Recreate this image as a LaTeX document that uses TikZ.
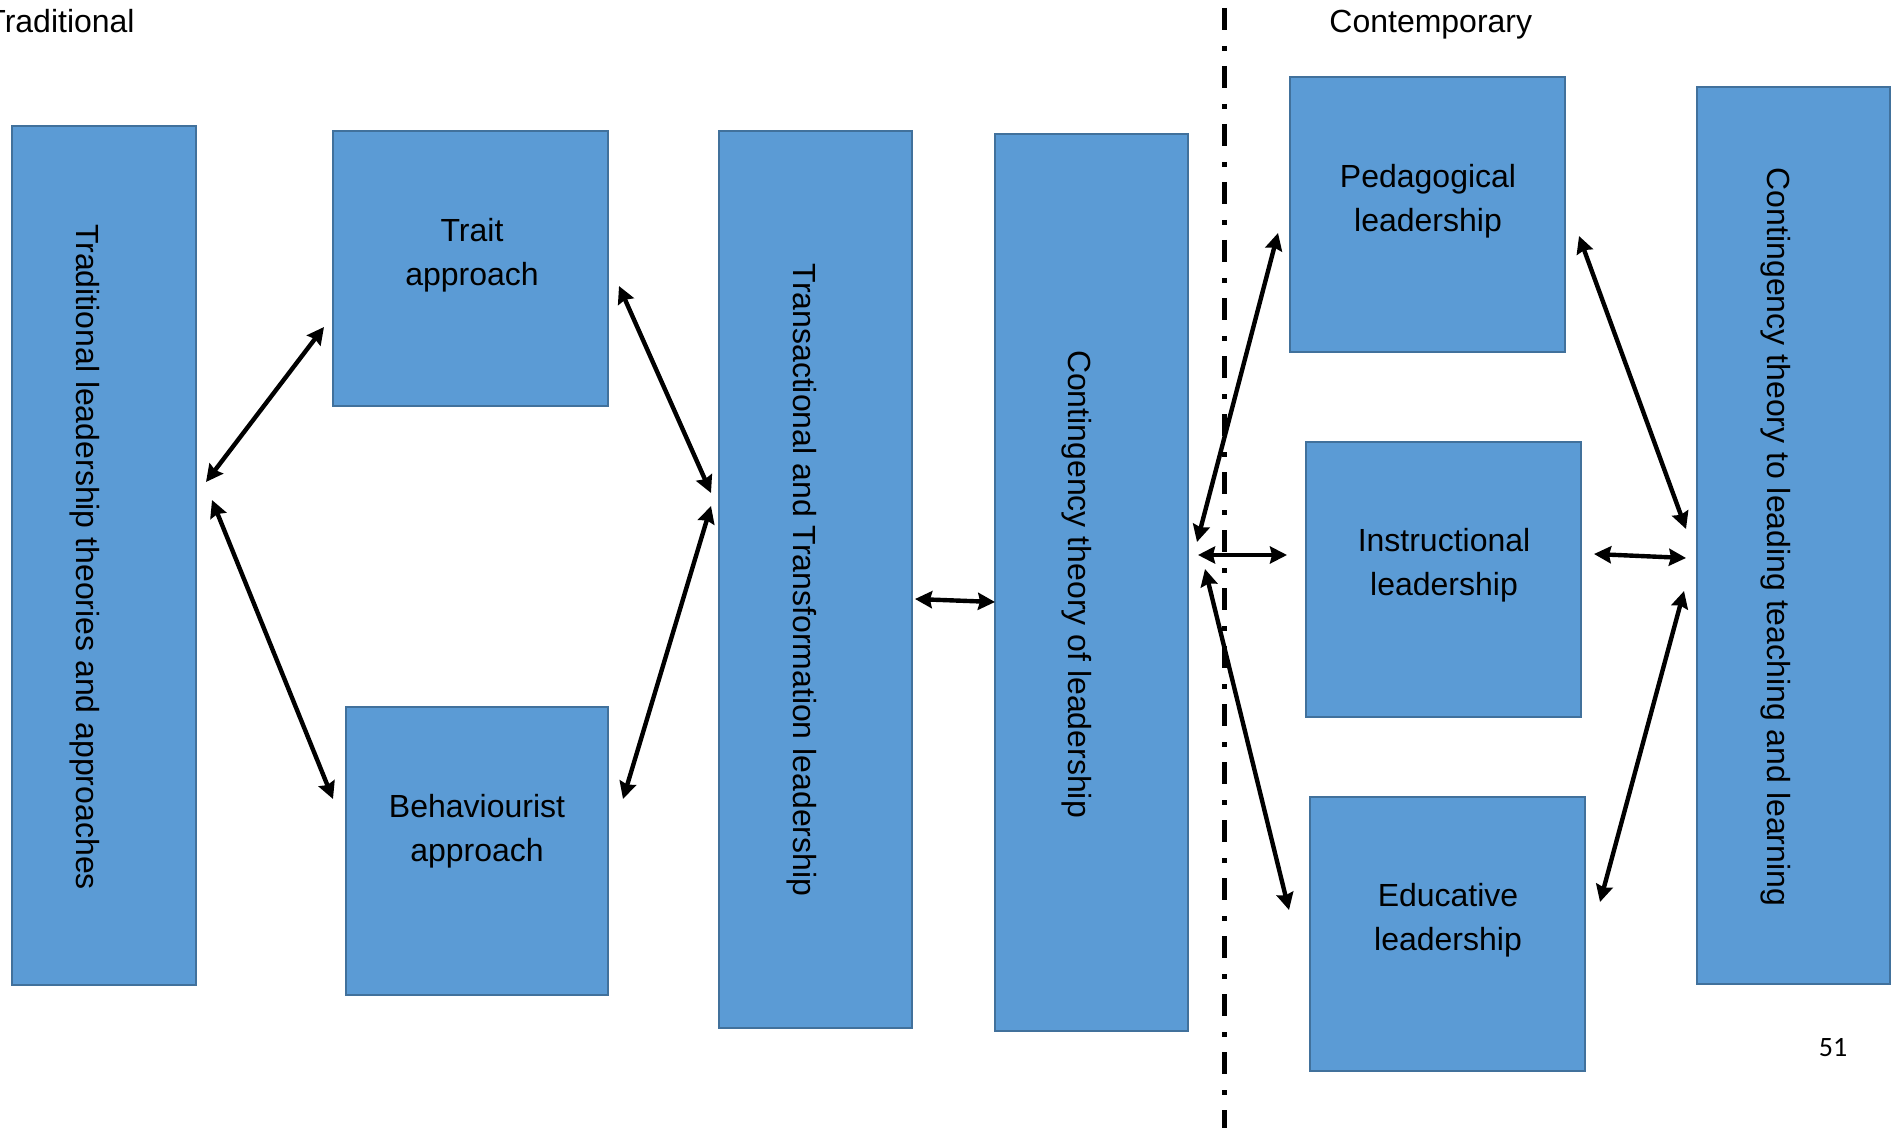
\documentclass[tikz,border=0pt]{standalone}
\usepackage{fontspec}
\setmainfont{Liberation Sans}
\newfontfamily\calibrifont{Carlito}
\usetikzlibrary{arrows.meta,calc}
\definecolor{boxfill}{HTML}{5B9BD5}
\definecolor{boxline}{HTML}{41719C}
\tikzset{
  box/.style={draw=boxline, fill=boxfill, line width=1.4pt, inner sep=0pt, outer sep=0pt},
  htxt/.style={align=center, inner sep=0pt, font=\fontsize{16pt}{21.8pt}\selectfont},
  vtxt/.style={rotate=-90, anchor=base, inner sep=0pt, font=\fontsize{16pt}{21.8pt}\selectfont},
  hdr/.style={anchor=base west, inner sep=0pt, font=\fontsize{16pt}{21.8pt}\selectfont},
  arr/.style={line width=2.2pt, {Stealth[length=8.5pt,width=8.5pt,inset=1pt]}-{Stealth[length=8.5pt,width=8.5pt,inset=1pt]}},
  divider/.style={line width=2.5pt, dash pattern=on 11pt off 8pt on 2.5pt off 7.5pt, dash phase=25pt}
}
\begin{document}
\begin{tikzpicture}[x=0.5pt,y=-0.5pt]
\useasboundingbox (0,0) rectangle (1898,1128);

% boxes
\node[box, minimum width=92pt, minimum height=429.5pt] (b1) at (104,555.5) {};
\node[box, minimum width=137.5pt, minimum height=137.5pt] (trait) at (470.5,268.5) {};
\node[box, minimum width=131pt, minimum height=144pt] (beh) at (477,851) {};
\node[box, minimum width=96.5pt, minimum height=448.5pt] (trans) at (815.5,579.5) {};
\node[box, minimum width=96.5pt, minimum height=448.5pt] (cont) at (1091.5,582.5) {};
\node[box, minimum width=137.5pt, minimum height=137.5pt] (ped) at (1427.5,214.5) {};
\node[box, minimum width=137.5pt, minimum height=137.5pt] (inst) at (1443.5,579.5) {};
\node[box, minimum width=137.5pt, minimum height=137pt] (edu) at (1447.5,934) {};
\node[box, minimum width=96.5pt, minimum height=448.5pt] (rb) at (1793.5,535.5) {};

% texts
\node[vtxt] (t1) at (76,557) {Traditional leadership theories and approaches};
\node[htxt] (t2) at (472,255) {Trait\\ approach};
\node[htxt] (t3) at (477,831) {Behaviourist\\ approach};
\node[vtxt] (t4) at (793,580) {Transactional and Transformation leadership};
\node[vtxt] (t5) at (1068,584) {Contingency theory of leadership};
\node[htxt] (t6) at (1428,201) {Pedagogical\\ leadership};
\node[htxt] (t7) at (1444,565) {Instructional\\ leadership};
\node[htxt] (t8) at (1448,920) {Educative\\ leadership};
\node[vtxt] (t9) at (1767,537) {Contingency theory to leading teaching and learning};

% headers
\node[hdr] (trad) at (-14,33) {Traditional};
\node[hdr] (cont2) at (1329,33) {Contemporary};
\node[inner sep=0pt, font=\calibrifont\fontsize{14pt}{16pt}\selectfont] (pg) at (1833,1048) {51};

% divider
\coordinate (dtop) at (1224,0);
\coordinate (dbot) at (1224,1128);
\draw[divider] (dtop) -- (dbot);

% arrows
\draw[arr] ($(b1.north east)+(10,356)$) -- ($(trait.north west)+(-9,196)$);
\draw[arr] ($(b1.north east)+(16,374)$) -- ($(beh.north west)+(-13,92)$);
\draw[arr] ($(trait.north east)+(11,155)$) -- ($(trans.north west)+(-8,362)$);
\draw[arr] ($(beh.north east)+(15,92)$) -- ($(trans.north west)+(-8,375)$);
\draw[arr] ($(trans.north east)+(3,468)$) -- ($(cont.north west)+(0,468)$);
\draw[arr] ($(cont.north east)+(9,408)$) -- ($(ped.north west)+(-12,156)$);
\draw[arr] ($(cont.north east)+(10,421)$) -- ($(inst.north west)+(-19,113)$);
\draw[arr] ($(cont.north east)+(17,435)$) -- ($(edu.north west)+(-21,113)$);
\draw[arr] ($(ped.north east)+(14,159)$) -- ($(rb.north west)+(-11,442)$);
\draw[arr] ($(inst.north east)+(13,112)$) -- ($(rb.north west)+(-11,471)$);
\draw[arr] ($(edu.north east)+(15,105)$) -- ($(rb.north west)+(-13,504)$);
\end{tikzpicture}
\end{document}
